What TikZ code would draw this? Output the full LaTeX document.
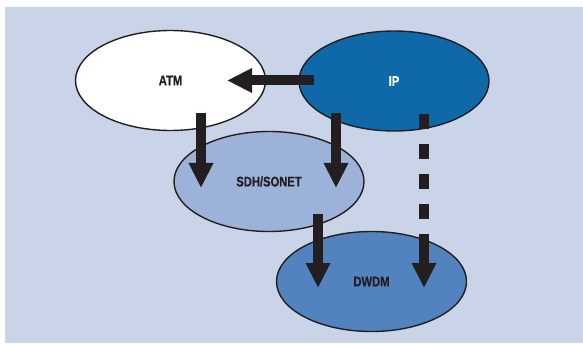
\documentclass[tikz,border=0pt]{standalone}
\usepackage{fontspec}
\usepackage{tikz}
\usetikzlibrary{calc,arrows.meta,shapes.geometric}

\newfontfamily\labelfont{Liberation Sans}[FakeStretch=0.8,BoldFeatures={FakeBold=0.6}]

\definecolor{bgblue}{HTML}{C9D4E8}
\definecolor{ipblue}{HTML}{0F69A8}
\definecolor{sdhblue}{HTML}{9CB2D8}
\definecolor{dwdmblue}{HTML}{5283BE}
\definecolor{inkcol}{HTML}{231F20}

\tikzset{
    layer/.style={ellipse,draw=inkcol,line width=1.4pt,minimum width=190pt,minimum height=100pt,
        inner sep=0pt,text=inkcol,font=\labelfont\bfseries\fontsize{14pt}{16pt}\selectfont},
    flow/.style={draw=inkcol,line width=10pt,-{Triangle[length=25pt,width=23pt]}}
}

\begin{document}
\begin{tikzpicture}[x=1pt,y=1pt]
        \useasboundingbox (0,0) rectangle (583,343);
        % 背景
        \fill[bgblue] (5,0) rectangle (583,336);

        % 各層 (楕円)
        \node[layer,fill=white] (atm) at (170.5,262.5) {ATM};
        \node[layer,fill=ipblue,text=white] (ip) at (394,262) {IP};
        \node[layer,fill=sdhblue] (sdh) at (269,161.5) {SDH/SONET};
        \node[layer,fill=dwdmblue] (dwdm) at (371.5,61.5) {DWDM};

        % IP -> ATM
        \draw[flow] ($(ip)+(-80,0.5)$) -- ($(atm)+(56.5,0)$);
        % ATM, IP -> SDH/SONET
        \draw[flow] ($(atm)+(30.5,-32.5)$) -- ($(sdh)+(-68,-6.5)$);
        \draw[flow] ($(ip)+(-58,-32)$) -- ($(sdh)+(67,-6.5)$);
        % SDH/SONET -> DWDM
        \draw[flow] ($(sdh)+(49,-32.5)$) -- ($(dwdm)+(-53.5,-6.5)$);
        % IP -> DWDM (点線)
        \draw[flow,dash pattern=on 15pt off 15pt on 15pt off 15pt on 15pt off 15pt on 15pt off 15pt on 200pt]
        ($(ip)+(30,-33)$) -- ($(dwdm)+(52.5,-6.5)$);
\end{tikzpicture}
\end{document}
